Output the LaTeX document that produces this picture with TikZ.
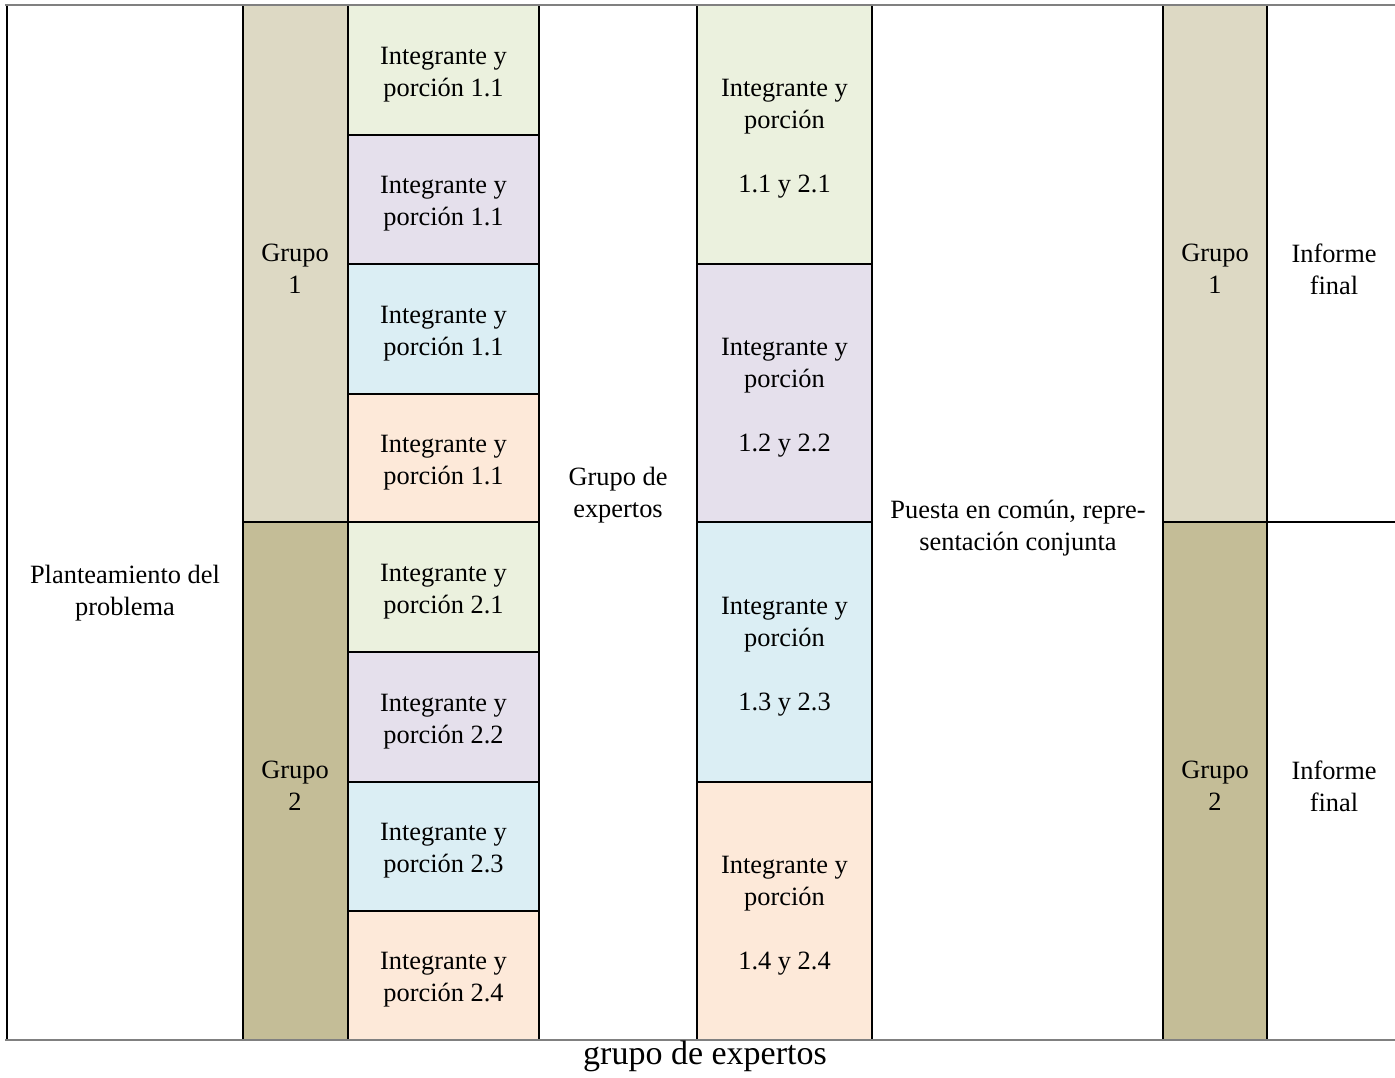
\documentclass[tikz,border=0pt]{standalone}
\usepackage{fontspec}
\setmainfont{Liberation Serif}
\usepackage{tikz}
\usepackage{xcolor}

\definecolor{verde}{HTML}{EBF1DE}
\definecolor{lila}{HTML}{E5E0EC}
\definecolor{celeste}{HTML}{DBEEF4}
\definecolor{durazno}{HTML}{FDE9D9}
\definecolor{grupoclaro}{HTML}{DDD9C4}
\definecolor{grupooscuro}{HTML}{C4BD97}

\tikzset{
  texto/.style={align=center, inner sep=0pt, yshift=-1.5pt, font=\fontsize{13.2pt}{16pt}\selectfont},
  borde/.style={black, line width=0.8pt},
  marco/.style={gray, line width=0.9pt}
}

\begin{document}
\begin{tikzpicture}[x=0.5pt, y=-0.5pt]
        \useasboundingbox (0,0) rectangle (1395,1077);
        % fondos de grupos
        \fill[grupoclaro] (243,5) rectangle (348,522);
        \fill[grupooscuro] (243,522) rectangle (348,1040);
        \fill[grupoclaro] (1163,5) rectangle (1267,522);
        \fill[grupooscuro] (1163,522) rectangle (1267,1040);
        % integrantes
        \fill[verde] (348,5) rectangle (539,135);
        \fill[lila] (348,135) rectangle (539,264);
        \fill[celeste] (348,264) rectangle (539,394);
        \fill[durazno] (348,394) rectangle (539,522);
        \fill[verde] (348,522) rectangle (539,652);
        \fill[lila] (348,652) rectangle (539,782);
        \fill[celeste] (348,782) rectangle (539,911);
        \fill[durazno] (348,911) rectangle (539,1040);
        % expertos
        \fill[verde] (697,5) rectangle (872,264);
        \fill[lila] (697,264) rectangle (872,522);
        \fill[celeste] (697,522) rectangle (872,782);
        \fill[durazno] (697,782) rectangle (872,1040);
        % lineas verticales
        \draw[borde] (7,5) -- (7,1040);
        \draw[borde] (243,5) -- (243,1040);
        \draw[borde] (348,5) -- (348,1040);
        \draw[borde] (539,5) -- (539,1040);
        \draw[borde] (697,5) -- (697,1040);
        \draw[borde] (872,5) -- (872,1040);
        \draw[borde] (1163,5) -- (1163,1040);
        \draw[borde] (1267,5) -- (1267,1040);
        % lineas horizontales
        \draw[borde] (348,135) -- (539,135);
        \draw[borde] (348,264) -- (539,264);
        \draw[borde] (348,394) -- (539,394);
        \draw[borde] (243,522) -- (539,522);
        \draw[borde] (348,652) -- (539,652);
        \draw[borde] (348,782) -- (539,782);
        \draw[borde] (348,911) -- (539,911);
        \draw[borde] (697,264) -- (872,264);
        \draw[borde] (697,522) -- (872,522);
        \draw[borde] (697,782) -- (872,782);
        \draw[borde] (1163,522) -- (1395,522);
        \draw[marco] (5,5) -- (1395,5);
        \draw[marco] (5,1040) -- (1395,1040);
        % textos
        \node[texto] (planteo) at (125,590) {Planteamiento del\\problema};
        \node[texto] (grupo1) at (295,266) {Grupo\\1};
        \node[texto] (grupo2) at (295,783) {Grupo\\2};
        \node[texto] (int11a) at (443.5,72) {Integrante y\\porción 1.1};
        \node[texto] (int11b) at (443.5,201) {Integrante y\\porción 1.1};
        \node[texto] (int11c) at (443.5,331) {Integrante y\\porción 1.1};
        \node[texto] (int11d) at (443.5,460) {Integrante y\\porción 1.1};
        \node[texto] (int21) at (443.5,589) {Integrante y\\porción 2.1};
        \node[texto] (int22) at (443.5,719) {Integrante y\\porción 2.2};
        \node[texto] (int23) at (443.5,848) {Integrante y\\porción 2.3};
        \node[texto] (int24) at (443.5,977) {Integrante y\\porción 2.4};
        \node[texto] (expertos) at (618,492) {Grupo de\\expertos};
        \node[texto] (exp1) at (784.5,136) {Integrante y\\porción\\[16pt]1.1 y 2.1};
        \node[texto] (exp2) at (784.5,395) {Integrante y\\porción\\[16pt]1.2 y 2.2};
        \node[texto] (exp3) at (784.5,654) {Integrante y\\porción\\[16pt]1.3 y 2.3};
        \node[texto] (exp4) at (784.5,913) {Integrante y\\porción\\[16pt]1.4 y 2.4};
        \node[texto] (puesta) at (1018,525) {Puesta en común, repre-\\sentación conjunta};
        \node[texto] (grupo1f) at (1215,266) {Grupo\\1};
        \node[texto] (grupo2f) at (1215,783) {Grupo\\2};
        \node[texto] (informe1) at (1334,266) {Informe\\final};
        \node[texto] (informe2) at (1334,783) {Informe\\final};
        \node[anchor=base, inner sep=0pt, font=\fontsize{17pt}{20pt}\selectfont] (pie) at (705,1064) {grupo de expertos};
\end{tikzpicture}
\end{document}
